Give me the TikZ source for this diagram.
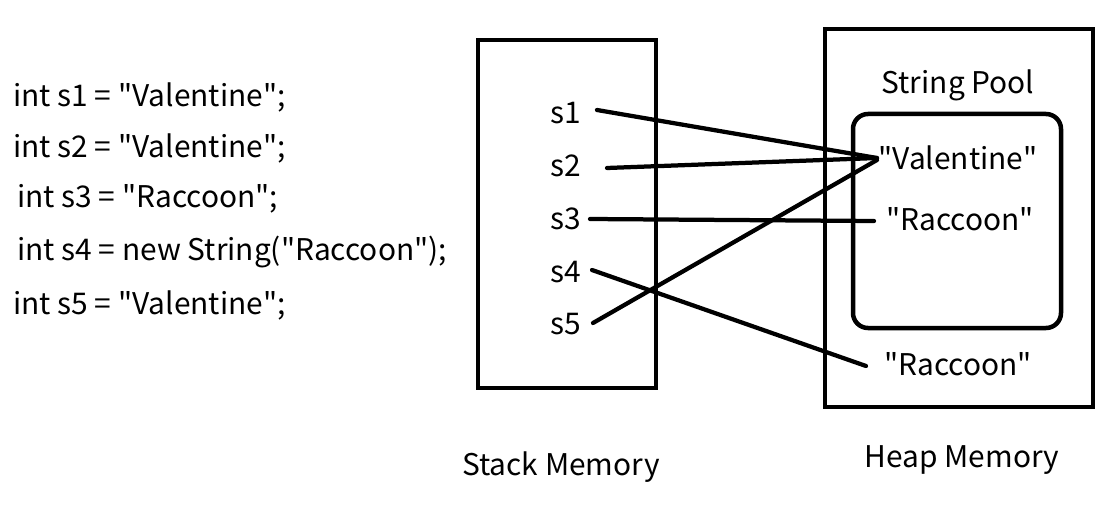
\documentclass[tikz,border=0pt]{standalone}
\usepackage{fontspec}
\setmainfont{Noto Sans CJK KR}[Ligatures=TeXOff]
\begin{document}
\begin{tikzpicture}[x=0.02cm,y=-0.02cm,
  box/.style={draw,line width=0.09cm},
  conn/.style={line width=0.085cm,line cap=round},
  txt/.style={inner sep=0pt,font=\fontsize{17pt}{20pt}\selectfont},
  code/.style={txt,anchor=west}]
\useasboundingbox (0,0) rectangle (1113,517);
% code lines
\node[code] (c1) at (13,97) {int s1 = "Valentine";};
\node[code] (c2) at (13,148) {int s2 = "Valentine";};
\node[code] (c3) at (17,199) {int s3 = "Raccoon";};
\node[code] (c4) at (17,252) {int s4 = new String("Raccoon");};
\node[code] (c5) at (13,305) {int s5 = "Valentine";};
% boxes
\draw[box] (478,40) rectangle (656,388);
\draw[box] (825,29) rectangle (1093,407);
\draw[box,rounded corners=0.3cm] (853,114) rectangle (1061,328);
% labels
\node[txt] (pool) at (958,85) {String Pool};
\node[txt] (v) at (958,158) {"Valentine"};
\node[txt] (r1) at (960,219) {"Raccoon"};
\node[txt] (r2) at (958,364) {"Raccoon"};
\node[txt] (s1) at (566,113) {s1};
\node[txt] (s2) at (566,166) {s2};
\node[txt] (s3) at (566,219) {s3};
\node[txt] (s4) at (566,272) {s4};
\node[txt] (s5) at (566,324) {s5};
\node[txt] (stack) at (561,467) {Stack Memory};
\node[txt] (heap) at (962,460) {Heap Memory};
% connector ends
\coordinate (a1) at (597,110);
\coordinate (a2) at (607,168);
\coordinate (a3) at (590,219);
\coordinate (a4) at (592,270);
\coordinate (a5) at (593,323);
\coordinate (bv) at (877,158);
\coordinate (bv5) at (877,160);
\coordinate (br1) at (874,221);
\coordinate (br2) at (866,366);
\draw[conn] (a1) -- (bv);
\draw[conn] (a2) -- (bv);
\draw[conn] (a3) -- (br1);
\draw[conn] (a4) -- (br2);
\draw[conn] (a5) -- (bv5);
\end{tikzpicture}
\end{document}
